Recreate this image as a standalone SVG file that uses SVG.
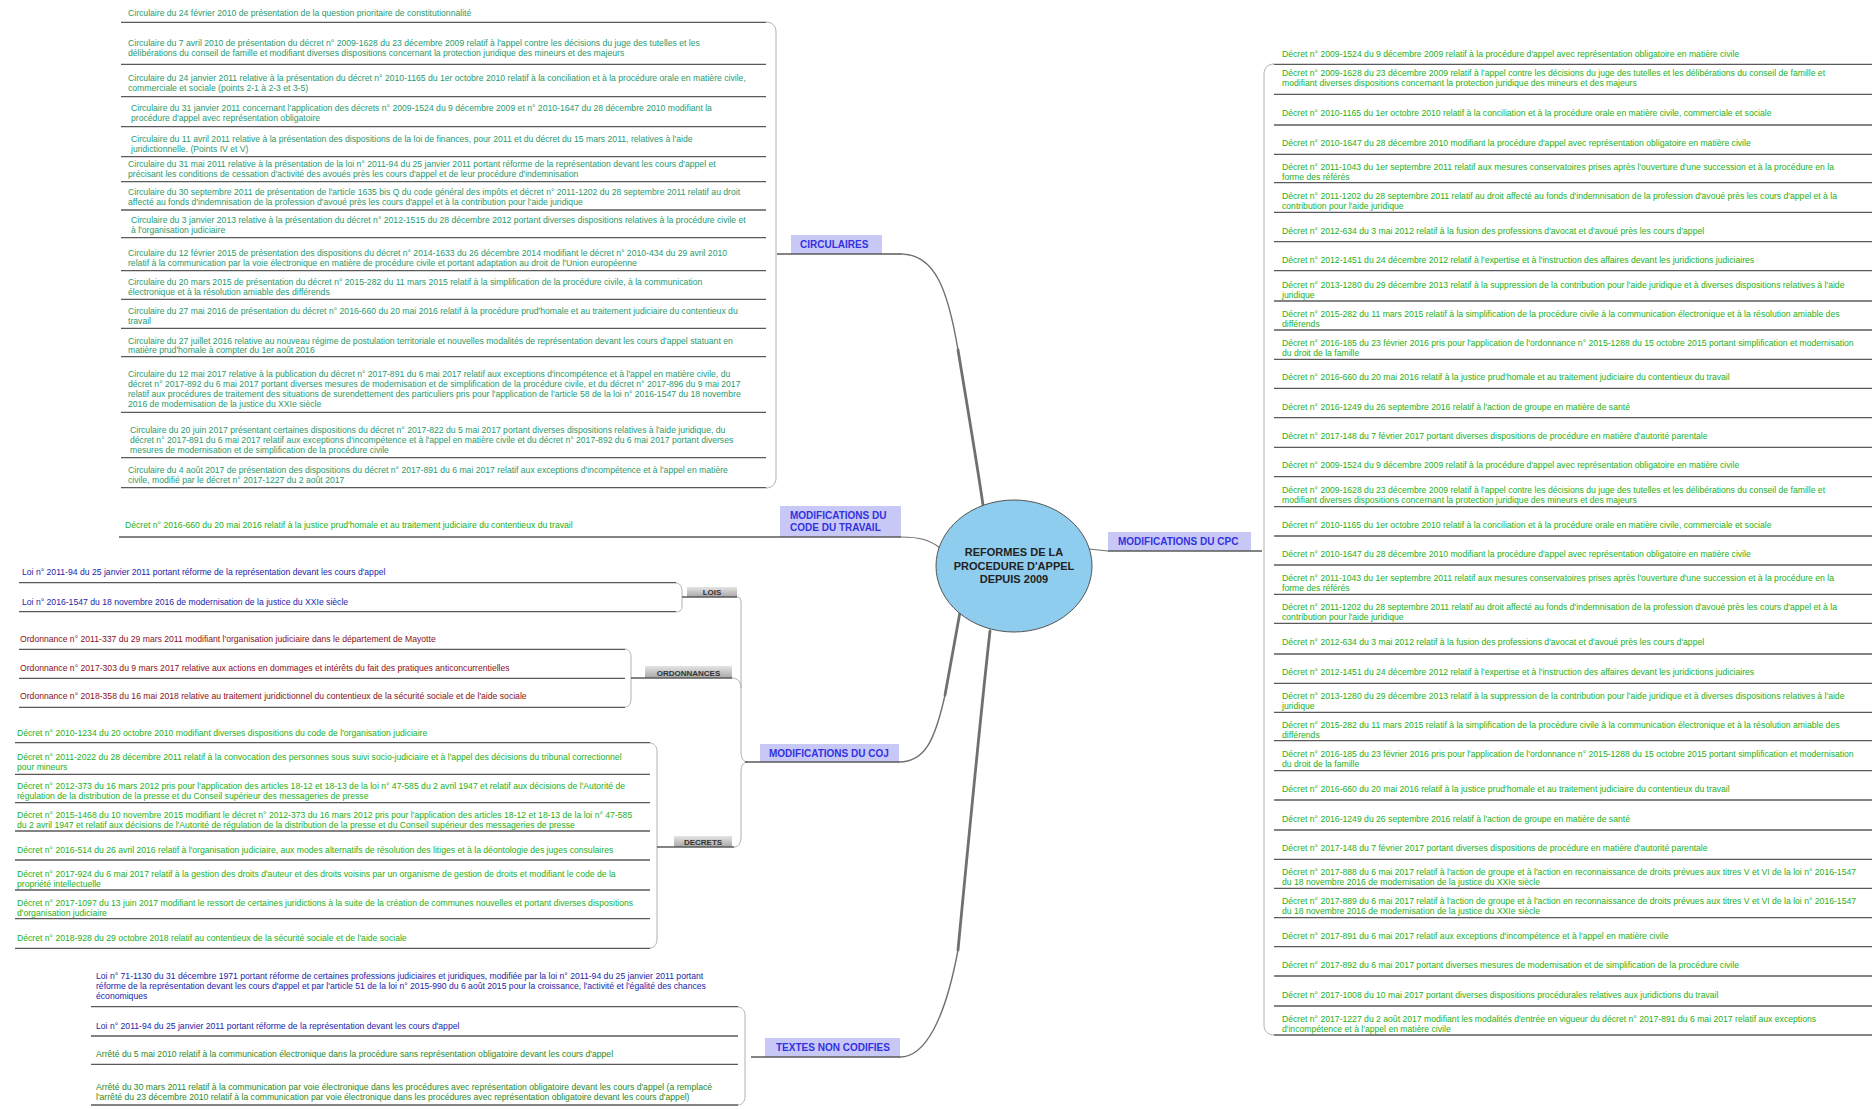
<svg xmlns="http://www.w3.org/2000/svg" width="1876" height="1109" viewBox="0 0 1876 1109">
<style>
.t{font-family:"Liberation Sans",Arial,sans-serif;font-size:8.65px}
.circ{fill:#2a9a70}.grn{fill:#25b025}.blu{fill:#2424a8}.red{fill:#8c1020}.dgrn{fill:#2a8a2a}
.ul{stroke:#5a5a5a;stroke-width:1.3;fill:none}
.br{stroke:#b0b0b0;stroke-width:1;fill:none}
.lbl{fill:#c8c8f6}
.lt{font-family:"Liberation Sans",Arial,sans-serif;font-size:10px;font-weight:bold;fill:#3232e0}
.gt{font-family:"Liberation Sans",Arial,sans-serif;font-size:8px;font-weight:bold;fill:#333;text-anchor:middle}
.conn{stroke:#707070;fill:none;stroke-linecap:round}
</style>
<defs>
<linearGradient id="gg" x1="0" y1="0" x2="0" y2="1"><stop offset="0" stop-color="#e4e4e4"/><stop offset="1" stop-color="#a8a8a8"/></linearGradient>
<linearGradient id="lg" x1="0" y1="0" x2="0" y2="1"><stop offset="0" stop-color="#d6d6fa"/><stop offset="1" stop-color="#bcbcf0"/></linearGradient>
</defs>
<rect width="1876" height="1109" fill="#fff"/>

<g id="connectors">
<path class="conn" stroke-width="1.4" d="M901,254 C935,254 948,290 958,350"/>
<path class="conn" stroke-width="2.8" d="M958,350 S978,470 983,505"/>
<path class="conn" stroke-width="1.2" d="M901,537 C920,537 930,540 940,548"/>
<path class="conn" stroke-width="1.2" d="M1089,549 L1108,551"/>
<path class="conn" stroke-width="1.4" d="M899,762 C925,762 935,740 945,695"/>
<path class="conn" stroke-width="2.8" d="M945,695 S955,640 960,612"/>
<path class="conn" stroke-width="1.4" d="M900,1057 C925,1057 945,1020 958,950"/>
<path class="conn" stroke-width="2.8" d="M958,950 S980,720 990,631"/>
<path class="br" d="M766,22 C772,22 776,26 776,32 L776,478 C776,484 772,488 766,488"/>
<path class="br" d="M1274,64 C1268,64 1264,68 1264,74 L1264,1025 C1264,1031 1268,1035 1274,1035"/>
<path class="br" d="M737,597 C742,597 741,603 741,610 L741,752 C741,758 743,762 748,762"/>
<path class="br" d="M732,678 C738,678 741,682 741,688"/>
<path class="br" d="M734,847 C739,847 741,843 741,836 L741,772 C741,766 743,762 748,762"/>
<path class="br" d="M676,583 C680,583 682,587 682,591 L682,606 C682,610 680,612 676,612"/>
<path class="br" d="M625,649 C629,649 631,653 631,657 L631,699 C631,703 629,707 625,707"/>
<path class="br" d="M650,743 C654,743 657,747 657,751 L657,940 C657,944 654,948 650,948"/>
<path class="br" d="M738,1007 C742,1007 745,1011 745,1015 L745,1097 C745,1101 742,1105 738,1105"/>
</g>

<g id="center">
<ellipse cx="1014" cy="566" rx="78" ry="66" fill="#8fcdee" stroke="#555" stroke-width="1"/>
<text font-family="'Liberation Sans',Arial,sans-serif" font-size="11" font-weight="bold" fill="#222" text-anchor="middle"><tspan x="1014" y="556">REFORMES DE LA</tspan><tspan x="1014" y="569.5">PROCEDURE D'APPEL</tspan><tspan x="1014" y="583">DEPUIS 2009</tspan></text>
</g>

<g id="lbl-circulaires"><rect class="lbl" fill="url(#lg)" x="791" y="235" width="91" height="19"/><line class="ul" x1="777" y1="254" x2="901" y2="254"/><text class="lt" x="800" y="248">CIRCULAIRES</text></g>
<g id="lbl-travail"><rect class="lbl" fill="url(#lg)" x="780" y="506" width="121" height="31"/><text class="lt"><tspan x="790" y="519">MODIFICATIONS DU</tspan><tspan x="790" y="531">CODE DU TRAVAIL</tspan></text></g>
<g id="lbl-cpc"><rect class="lbl" fill="url(#lg)" x="1108" y="532" width="143" height="19"/><line class="ul" x1="1108" y1="551" x2="1262" y2="551"/><text class="lt" x="1118" y="545">MODIFICATIONS DU CPC</text></g>
<g id="lbl-coj"><rect class="lbl" fill="url(#lg)" x="760" y="744" width="139" height="18"/><line class="ul" x1="745" y1="762" x2="899" y2="762"/><text class="lt" x="769" y="757">MODIFICATIONS DU COJ</text></g>
<g id="lbl-textes"><rect class="lbl" fill="url(#lg)" x="765" y="1038" width="135" height="19"/><line class="ul" x1="751" y1="1057" x2="900" y2="1057"/><text class="lt" x="776" y="1051">TEXTES NON CODIFIES</text></g>
<g id="lbl-lois"><rect fill="url(#gg)" x="687" y="587" width="50" height="10"/><line class="ul" x1="682" y1="597" x2="737" y2="597"/><text class="gt" x="712" y="595">LOIS</text></g>
<g id="lbl-ordonnances"><rect fill="url(#gg)" x="645" y="666" width="87" height="12"/><line class="ul" x1="631" y1="678" x2="732" y2="678"/><text class="gt" x="688.5" y="675.5">ORDONNANCES</text></g>
<g id="lbl-decrets"><rect fill="url(#gg)" x="674" y="836" width="58" height="11"/><line class="ul" x1="657" y1="847" x2="734" y2="847"/><text class="gt" x="703" y="844.5">DECRETS</text></g>

<g id="circulaires" class="t">
<g id="c1"><text class="t circ" x="128" y="15.7">Circulaire du 24 février 2010 de présentation de la question prioritaire de constitutionnalité</text><line class="ul" x1="121" y1="22.3" x2="766" y2="22.3"/></g>
<g id="c2"><text class="t circ"><tspan x="128" y="45.7">Circulaire du 7 avril 2010 de présentation du décret n° 2009-1628 du 23 décembre 2009 relatif à l'appel contre les décisions du juge des tutelles et les</tspan><tspan x="128" y="56.3">délibérations du conseil de famille et modifiant diverses dispositions concernant la protection juridique des mineurs et des majeurs</tspan></text><line class="ul" x1="121" y1="64.3" x2="766" y2="64.3"/></g>
<g id="c3"><text class="t circ"><tspan x="128" y="80.5">Circulaire du 24 janvier 2011 relative à la présentation du décret n° 2010-1165 du 1er octobre 2010 relatif à la conciliation et à la procédure orale en matière civile,</tspan><tspan x="128" y="90.5">commerciale et sociale (points 2-1 à 2-3 et 3-5)</tspan></text><line class="ul" x1="121" y1="96.7" x2="766" y2="96.7"/></g>
<g id="c4"><text class="t circ"><tspan x="131" y="110.8">Circulaire du 31 janvier 2011 concernant l'application des décrets n° 2009-1524 du 9 décembre 2009 et n° 2010-1647 du 28 décembre 2010 modifiant la</tspan><tspan x="131" y="120.8">procédure d'appel avec représentation obligatoire</tspan></text><line class="ul" x1="121" y1="126.7" x2="766" y2="126.7"/></g>
<g id="c5"><text class="t circ"><tspan x="131" y="142">Circulaire du 11 avril 2011 relative à la présentation des dispositions de la loi de finances, pour 2011 et du décret du 15 mars 2011, relatives à l'aide</tspan><tspan x="131" y="152">juridictionnelle. (Points IV et V)</tspan></text><line class="ul" x1="121" y1="156.7" x2="766" y2="156.7"/></g>
<g id="c6"><text class="t circ"><tspan x="128" y="166.8">Circulaire du 31 mai 2011 relative à la présentation de la loi n° 2011-94 du 25 janvier  2011 portant réforme de la représentation devant les cours d'appel et</tspan><tspan x="128" y="176.8">précisant les conditions de cessation d'activité des avoués près les cours d'appel et de leur procédure d'indemnisation</tspan></text><line class="ul" x1="121" y1="181.7" x2="766" y2="181.7"/></g>
<g id="c7"><text class="t circ"><tspan x="128" y="194.8">Circulaire du 30 septembre 2011 de présentation de l'article 1635 bis Q du code général des impôts et décret n° 2011-1202 du 28 septembre 2011 relatif au droit</tspan><tspan x="128" y="204.8">affecté au fonds d'indemnisation de la profession d'avoué près les cours d'appel et à la contribution pour l'aide juridique</tspan></text><line class="ul" x1="121" y1="210" x2="766" y2="210"/></g>
<g id="c8"><text class="t circ"><tspan x="131" y="222.5">Circulaire du 3 janvier 2013 relative à la présentation du décret n° 2012-1515 du 28 décembre 2012 portant diverses dispositions relatives à la procédure civile et</tspan><tspan x="131" y="232.5">à l'organisation judiciaire</tspan></text><line class="ul" x1="121" y1="237.7" x2="766" y2="237.7"/></g>
<g id="c9"><text class="t circ"><tspan x="128" y="255.8">Circulaire du 12 février 2015 de présentation des dispositions du décret n° 2014-1633 du  26 décembre 2014 modifiant le décret n° 2010-434 du 29 avril 2010</tspan><tspan x="128" y="266">relatif à la communication par la voie électronique en matière de procédure civile et portant adaptation au droit de l'Union européenne</tspan></text><line class="ul" x1="121" y1="270.7" x2="766" y2="270.7"/></g>
<g id="c10"><text class="t circ"><tspan x="128" y="285.2">Circulaire du 20 mars 2015 de présentation du décret n° 2015-282 du 11 mars 2015 relatif à la simplification de la procédure civile, à la communication</tspan><tspan x="128" y="295.2">électronique et à la résolution amiable des différends</tspan></text><line class="ul" x1="121" y1="299.3" x2="766" y2="299.3"/></g>
<g id="c11"><text class="t circ"><tspan x="128" y="314.2">Circulaire du 27 mai 2016 de présentation du décret n° 2016-660 du 20 mai 2016 relatif à la procédure prud'homale et au traitement judiciaire du contentieux du</tspan><tspan x="128" y="324.2">travail</tspan></text><line class="ul" x1="121" y1="328.3" x2="766" y2="328.3"/></g>
<g id="c12"><text class="t circ"><tspan x="128" y="343.5">Circulaire du 27 juillet 2016 relative au nouveau régime de postulation territoriale et nouvelles modalités de représentation devant les cours d'appel statuant en</tspan><tspan x="128" y="353.3">matière prud'homale à compter du 1er août 2016</tspan></text><line class="ul" x1="121" y1="356.7" x2="766" y2="356.7"/></g>
<g id="c13"><text class="t circ"><tspan x="128" y="376.8">Circulaire du 12 mai 2017 relative à la publication du décret n° 2017-891 du 6 mai 2017 relatif aux exceptions d'incompétence et à l'appel en matière civile, du</tspan><tspan x="128" y="386.8">décret n° 2017-892 du 6 mai 2017 portant diverses mesures de modernisation et de simplification de la procédure civile, et du décret n° 2017-896 du 9 mai 2017</tspan><tspan x="128" y="396.8">relatif aux procédures de traitement des situations de surendettement des particuliers pris pour l'application de l'article 58 de la loi n° 2016-1547 du 18 novembre</tspan><tspan x="128" y="406.8">2016 de modernisation de la justice du XXIe siècle</tspan></text><line class="ul" x1="121" y1="412.3" x2="766" y2="412.3"/></g>
<g id="c14"><text class="t circ"><tspan x="130" y="432.5">Circulaire du 20 juin 2017 présentant certaines dispositions du décret n° 2017-822 du 5 mai 2017 portant diverses dispositions relatives à l'aide juridique, du</tspan><tspan x="130" y="442.5">décret n° 2017-891 du 6 mai 2017 relatif aux exceptions d'incompétence et à l'appel en matière civile et du décret n° 2017-892 du 6 mai 2017 portant diverses</tspan><tspan x="130" y="452.5">mesures de modernisation et de simplification de la procédure civile</tspan></text><line class="ul" x1="121" y1="457.7" x2="766" y2="457.7"/></g>
<g id="c15"><text class="t circ"><tspan x="128" y="472.5">Circulaire du 4 août 2017 de présentation des dispositions du décret n° 2017-891 du 6 mai 2017 relatif aux exceptions d'incompétence et à l'appel en matière</tspan><tspan x="128" y="482.5">civile, modifié par le décret n° 2017-1227 du 2 août 2017</tspan></text><line class="ul" x1="121" y1="487.7" x2="766" y2="487.7"/></g>
</g>

<g id="travail">
<g id="tr1"><text class="t grn" x="125" y="528">Décret n° 2016-660 du 20 mai 2016 relatif à la justice prud'homale et au traitement judiciaire du contentieux du travail</text><line class="ul" x1="119" y1="537" x2="901" y2="537"/></g>
</g>

<g id="lois">
<g id="l1"><text class="t blu" x="22" y="574.7">Loi n° 2011-94 du 25 janvier 2011 portant réforme de la représentation devant les cours d'appel</text><line class="ul" x1="19" y1="582.7" x2="676" y2="582.7"/></g>
<g id="l2"><text class="t blu" x="22" y="604.7">Loi n° 2016-1547 du 18 novembre 2016 de modernisation de la justice du XXIe siècle</text><line class="ul" x1="19" y1="611.7" x2="676" y2="611.7"/></g>
</g>

<g id="ordonnances">
<g id="o1"><text class="t red" x="20" y="642">Ordonnance n° 2011-337 du 29 mars 2011 modifiant l'organisation judiciaire dans le département de Mayotte</text><line class="ul" x1="19" y1="649.3" x2="625" y2="649.3"/></g>
<g id="o2"><text class="t red" x="20" y="670.7">Ordonnance n° 2017-303 du 9 mars 2017 relative aux actions en dommages et intérêts du fait des pratiques anticoncurrentielles</text><line class="ul" x1="19" y1="678.3" x2="625" y2="678.3"/></g>
<g id="o3"><text class="t red" x="20" y="698.7">Ordonnance n° 2018-358 du 16 mai 2018 relative au traitement juridictionnel du contentieux de la sécurité sociale et de l'aide sociale</text><line class="ul" x1="19" y1="707.3" x2="625" y2="707.3"/></g>
</g>

<g id="decrets-coj">
<g id="d1"><text class="t grn" x="17" y="735.7">Décret n° 2010-1234 du 20 octobre 2010 modifiant diverses dispositions du code de l'organisation judiciaire</text><line class="ul" x1="15" y1="742.7" x2="650" y2="742.7"/></g>
<g id="d2"><text class="t grn"><tspan x="17" y="760">Décret n° 2011-2022 du 28 décembre 2011 relatif à la convocation des personnes sous suivi socio-judiciaire et à l'appel des décisions du tribunal correctionnel</tspan><tspan x="17" y="770">pour mineurs</tspan></text><line class="ul" x1="15" y1="774.3" x2="650" y2="774.3"/></g>
<g id="d3"><text class="t grn"><tspan x="17" y="788.5">Décret n° 2012-373 du 16 mars 2012 pris pour l'application des articles 18-12 et 18-13 de la loi n° 47-585 du 2 avril 1947 et relatif aux décisions de l'Autorité de</tspan><tspan x="17" y="798.5">régulation de la distribution de la presse et du Conseil supérieur des messageries de presse</tspan></text><line class="ul" x1="15" y1="802.7" x2="650" y2="802.7"/></g>
<g id="d4"><text class="t grn"><tspan x="17" y="817.5">Décret n° 2015-1468 du 10 novembre 2015 modifiant le décret n° 2012-373 du 16 mars 2012 pris pour l'application des articles 18-12 et 18-13 de la loi n° 47-585</tspan><tspan x="17" y="827.5">du 2 avril 1947 et relatif aux décisions de l'Autorité de régulation de la distribution de la presse et du Conseil supérieur des messageries de presse</tspan></text><line class="ul" x1="15" y1="831" x2="650" y2="831"/></g>
<g id="d5"><text class="t grn" x="17" y="853">Décret n° 2016-514 du 26 avril 2016 relatif à l'organisation judiciaire, aux modes alternatifs de résolution des litiges et à la déontologie des juges consulaires</text><line class="ul" x1="15" y1="860" x2="650" y2="860"/></g>
<g id="d6"><text class="t grn"><tspan x="17" y="877">Décret n° 2017-924 du 6 mai 2017 relatif à la gestion des droits d'auteur et des droits voisins par un organisme de gestion de droits et modifiant le code de la</tspan><tspan x="17" y="887">propriété intellectuelle</tspan></text><line class="ul" x1="15" y1="890" x2="650" y2="890"/></g>
<g id="d7"><text class="t grn"><tspan x="17" y="905.5">Décret n° 2017-1097 du 13 juin 2017 modifiant le ressort de certaines juridictions à la suite de la création de communes nouvelles et portant diverses dispositions</tspan><tspan x="17" y="915.5">d'organisation judiciaire</tspan></text><line class="ul" x1="15" y1="918.7" x2="650" y2="918.7"/></g>
<g id="d8"><text class="t grn" x="17" y="941.3">Décret n° 2018-928 du 29 octobre 2018 relatif au contentieux de la sécurité sociale et de l'aide sociale</text><line class="ul" x1="15" y1="948.3" x2="650" y2="948.3"/></g>
</g>

<g id="textes">
<g id="x1"><text class="t blu"><tspan x="96" y="978.5">Loi n° 71-1130 du 31 décembre 1971 portant réforme de certaines professions judiciaires et juridiques, modifiée par la loi n° 2011-94 du 25 janvier 2011 portant</tspan><tspan x="96" y="988.5">réforme de la représentation devant les cours d'appel et par l'article 51 de la loi n° 2015-990 du 6 août 2015 pour la croissance, l'activité et l'égalité des chances</tspan><tspan x="96" y="998.5">économiques</tspan></text><line class="ul" x1="91" y1="1006.7" x2="738" y2="1006.7"/></g>
<g id="x2"><text class="t blu" x="96" y="1029">Loi n° 2011-94 du 25 janvier 2011 portant réforme de la représentation devant les cours d'appel</text><line class="ul" x1="91" y1="1036" x2="738" y2="1036"/></g>
<g id="x3"><text class="t dgrn" x="96" y="1057.3">Arrêté du 5 mai 2010 relatif à la communication électronique dans la procédure sans représentation obligatoire devant les cours d'appel</text><line class="ul" x1="91" y1="1064.3" x2="738" y2="1064.3"/></g>
<g id="x4"><text class="t dgrn"><tspan x="96" y="1089.5">Arrêté du 30 mars 2011 relatif à la communication par voie électronique dans les procédures avec représentation obligatoire devant les cours d'appel (a remplacé</tspan><tspan x="96" y="1099.5">l'arrêté du 23 décembre 2010 relatif à la communication par voie électronique dans les procédures avec représentation obligatoire devant les cours d'appel)</tspan></text><line class="ul" x1="91" y1="1105" x2="738" y2="1105"/></g>
</g>

<g id="cpc">
<g id="p1"><text class="t grn" x="1282" y="57">Décret n° 2009-1524 du 9 décembre 2009 relatif à la procédure d'appel avec représentation obligatoire en matière civile</text><line class="ul" x1="1274" y1="64.3" x2="1872" y2="64.3"/></g>
<g id="p2"><text class="t grn"><tspan x="1282" y="76.3">Décret n° 2009-1628 du 23 décembre 2009 relatif à l'appel contre les décisions du juge des tutelles et les délibérations du conseil de famille et</tspan><tspan x="1282" y="86.3">modifiant diverses dispositions concernant la protection juridique des mineurs et des majeurs</tspan></text><line class="ul" x1="1274" y1="94.3" x2="1872" y2="94.3"/></g>
<g id="p3"><text class="t grn" x="1282" y="116.3">Décret n° 2010-1165 du 1er octobre 2010 relatif à la conciliation et à la procédure orale en matière civile, commerciale et sociale</text><line class="ul" x1="1274" y1="125" x2="1872" y2="125"/></g>
<g id="p4"><text class="t grn" x="1282" y="146.3">Décret n° 2010-1647 du 28 décembre 2010 modifiant la procédure d'appel avec représentation obligatoire en matière civile</text><line class="ul" x1="1274" y1="154.3" x2="1872" y2="154.3"/></g>
<g id="p5"><text class="t grn"><tspan x="1282" y="169.5">Décret n° 2011-1043 du 1er septembre 2011 relatif aux mesures conservatoires prises après l'ouverture d'une succession et à la procédure en la</tspan><tspan x="1282" y="179.5">forme des référés</tspan></text><line class="ul" x1="1274" y1="182.7" x2="1872" y2="182.7"/></g>
<g id="p6"><text class="t grn"><tspan x="1282" y="198.5">Décret n° 2011-1202 du 28 septembre 2011 relatif au droit affecté au fonds d'indemnisation de la profession d'avoué près les cours d'appel et à la</tspan><tspan x="1282" y="208.5">contribution pour l'aide juridique</tspan></text><line class="ul" x1="1274" y1="212.3" x2="1872" y2="212.3"/></g>
<g id="p7"><text class="t grn" x="1282" y="234">Décret n° 2012-634 du 3 mai 2012 relatif à la fusion des professions d'avocat et d'avoué près les cours d'appel</text><line class="ul" x1="1274" y1="241.7" x2="1872" y2="241.7"/></g>
<g id="p8"><text class="t grn" x="1282" y="263">Décret n° 2012-1451 du 24 décembre 2012 relatif à l'expertise et à l'instruction des affaires devant les juridictions judiciaires</text><line class="ul" x1="1274" y1="270.7" x2="1872" y2="270.7"/></g>
<g id="p9"><text class="t grn"><tspan x="1282" y="287.5">Décret n° 2013-1280 du 29 décembre 2013 relatif à la suppression de la contribution pour l'aide juridique et à diverses dispositions relatives à l'aide</tspan><tspan x="1282" y="297.5">juridique</tspan></text><line class="ul" x1="1274" y1="301" x2="1872" y2="301"/></g>
<g id="p10"><text class="t grn"><tspan x="1282" y="316.8">Décret n° 2015-282 du 11 mars 2015 relatif à la simplification de la procédure civile à la communication électronique et à la résolution amiable des</tspan><tspan x="1282" y="326.8">différends</tspan></text><line class="ul" x1="1274" y1="330" x2="1872" y2="330"/></g>
<g id="p11"><text class="t grn"><tspan x="1282" y="345.8">Décret n° 2016-185 du 23 février 2016 pris pour l'application de l'ordonnance n° 2015-1288 du 15 octobre 2015 portant simplification et modernisation</tspan><tspan x="1282" y="355.8">du droit de la famille</tspan></text><line class="ul" x1="1274" y1="359.3" x2="1872" y2="359.3"/></g>
<g id="p12"><text class="t grn" x="1282" y="379.7">Décret n° 2016-660 du 20 mai 2016 relatif à la justice prud'homale et au traitement judiciaire du contentieux du travail</text><line class="ul" x1="1274" y1="388.3" x2="1872" y2="388.3"/></g>
<g id="p13"><text class="t grn" x="1282" y="409.7">Décret n° 2016-1249 du 26 septembre 2016 relatif à l'action de groupe en matière de santé</text><line class="ul" x1="1274" y1="417.7" x2="1872" y2="417.7"/></g>
<g id="p14"><text class="t grn" x="1282" y="439">Décret n° 2017-148 du 7 février 2017 portant diverses dispositions de procédure en matière d'autorité parentale</text><line class="ul" x1="1274" y1="447.3" x2="1872" y2="447.3"/></g>
<g id="p15"><text class="t grn" x="1282" y="468">Décret n° 2009-1524 du 9 décembre 2009 relatif à la procédure d'appel avec représentation obligatoire en matière civile</text><line class="ul" x1="1274" y1="476.7" x2="1872" y2="476.7"/></g>
<g id="p16"><text class="t grn"><tspan x="1282" y="493.3">Décret n° 2009-1628 du 23 décembre 2009 relatif à l'appel contre les décisions du juge des tutelles et les délibérations du conseil de famille et</tspan><tspan x="1282" y="503.3">modifiant diverses dispositions concernant la protection juridique des mineurs et des majeurs</tspan></text><line class="ul" x1="1274" y1="506.7" x2="1872" y2="506.7"/></g>
<g id="p17"><text class="t grn" x="1282" y="528">Décret n° 2010-1165 du 1er octobre 2010 relatif à la conciliation et à la procédure orale en matière civile, commerciale et sociale</text><line class="ul" x1="1274" y1="536" x2="1872" y2="536"/></g>
<g id="p18"><text class="t grn" x="1282" y="557.3">Décret n° 2010-1647 du 28 décembre 2010 modifiant la procédure d'appel avec représentation obligatoire en matière civile</text><line class="ul" x1="1274" y1="565" x2="1872" y2="565"/></g>
<g id="p19"><text class="t grn"><tspan x="1282" y="581">Décret n° 2011-1043 du 1er septembre 2011 relatif aux mesures conservatoires prises après l'ouverture d'une succession et à la procédure en la</tspan><tspan x="1282" y="591">forme des référés</tspan></text><line class="ul" x1="1274" y1="594.3" x2="1872" y2="594.3"/></g>
<g id="p20"><text class="t grn"><tspan x="1282" y="610">Décret n° 2011-1202 du 28 septembre 2011 relatif au droit affecté au fonds d'indemnisation de la profession d'avoué près les cours d'appel et à la</tspan><tspan x="1282" y="620">contribution pour l'aide juridique</tspan></text><line class="ul" x1="1274" y1="623.3" x2="1872" y2="623.3"/></g>
<g id="p21"><text class="t grn" x="1282" y="644.7">Décret n° 2012-634 du 3 mai 2012 relatif à la fusion des professions d'avocat et d'avoué près les cours d'appel</text><line class="ul" x1="1274" y1="654" x2="1872" y2="654"/></g>
<g id="p22"><text class="t grn" x="1282" y="675.3">Décret n° 2012-1451 du 24 décembre 2012 relatif à l'expertise et à l'instruction des affaires devant les juridictions judiciaires</text><line class="ul" x1="1274" y1="683.3" x2="1872" y2="683.3"/></g>
<g id="p23"><text class="t grn"><tspan x="1282" y="699.3">Décret n° 2013-1280 du 29 décembre 2013 relatif à la suppression de la contribution pour l'aide juridique et à diverses dispositions relatives à l'aide</tspan><tspan x="1282" y="709.3">juridique</tspan></text><line class="ul" x1="1274" y1="712.3" x2="1872" y2="712.3"/></g>
<g id="p24"><text class="t grn"><tspan x="1282" y="727.7">Décret n° 2015-282 du 11 mars 2015 relatif à la simplification de la procédure civile à la communication électronique et à la résolution amiable des</tspan><tspan x="1282" y="737.7">différends</tspan></text><line class="ul" x1="1274" y1="740.7" x2="1872" y2="740.7"/></g>
<g id="p25"><text class="t grn"><tspan x="1282" y="757.3">Décret n° 2016-185 du 23 février 2016 pris pour l'application de l'ordonnance n° 2015-1288 du 15 octobre 2015 portant simplification et modernisation</tspan><tspan x="1282" y="767.3">du droit de la famille</tspan></text><line class="ul" x1="1274" y1="770.7" x2="1872" y2="770.7"/></g>
<g id="p26"><text class="t grn" x="1282" y="792">Décret n° 2016-660 du 20 mai 2016 relatif à la justice prud'homale et au traitement judiciaire du contentieux du travail</text><line class="ul" x1="1274" y1="800" x2="1872" y2="800"/></g>
<g id="p27"><text class="t grn" x="1282" y="822.3">Décret n° 2016-1249 du 26 septembre 2016 relatif à l'action de groupe en matière de santé</text><line class="ul" x1="1274" y1="830" x2="1872" y2="830"/></g>
<g id="p28"><text class="t grn" x="1282" y="851.3">Décret n° 2017-148 du 7 février 2017 portant diverses dispositions de procédure en matière d'autorité parentale</text><line class="ul" x1="1274" y1="859.3" x2="1872" y2="859.3"/></g>
<g id="p29"><text class="t grn"><tspan x="1282" y="875">Décret n° 2017-888 du 6 mai 2017 relatif à l'action de groupe et à l'action en reconnaissance de droits prévues aux titres V et VI de la loi n° 2016-1547</tspan><tspan x="1282" y="885">du 18 novembre 2016 de modernisation de la justice du XXIe siècle</tspan></text><line class="ul" x1="1274" y1="888.3" x2="1872" y2="888.3"/></g>
<g id="p30"><text class="t grn"><tspan x="1282" y="904.3">Décret n° 2017-889 du 6 mai 2017 relatif à l'action de groupe et à l'action en reconnaissance de droits prévues aux titres V et VI de la loi n° 2016-1547</tspan><tspan x="1282" y="914.3">du 18 novembre 2016 de modernisation de la justice du XXIe siècle</tspan></text><line class="ul" x1="1274" y1="917.7" x2="1872" y2="917.7"/></g>
<g id="p31"><text class="t grn" x="1282" y="938.7">Décret n° 2017-891 du 6 mai 2017 relatif aux exceptions d'incompétence et à l'appel en matière civile</text><line class="ul" x1="1274" y1="946.7" x2="1872" y2="946.7"/></g>
<g id="p32"><text class="t grn" x="1282" y="968">Décret n° 2017-892 du 6 mai 2017 portant diverses mesures de modernisation et de simplification de la procédure civile</text><line class="ul" x1="1274" y1="976" x2="1872" y2="976"/></g>
<g id="p33"><text class="t grn" x="1282" y="998">Décret n° 2017-1008 du 10 mai 2017 portant diverses dispositions procédurales relatives aux juridictions du travail</text><line class="ul" x1="1274" y1="1006" x2="1872" y2="1006"/></g>
<g id="p34"><text class="t grn"><tspan x="1282" y="1022">Décret n° 2017-1227 du 2 août 2017 modifiant les modalités d'entrée en vigueur du décret n° 2017-891 du 6 mai 2017 relatif aux exceptions</tspan><tspan x="1282" y="1032">d'incompétence et à l'appel en matière civile</tspan></text><line class="ul" x1="1274" y1="1035" x2="1872" y2="1035"/></g>
</g>
</svg>
